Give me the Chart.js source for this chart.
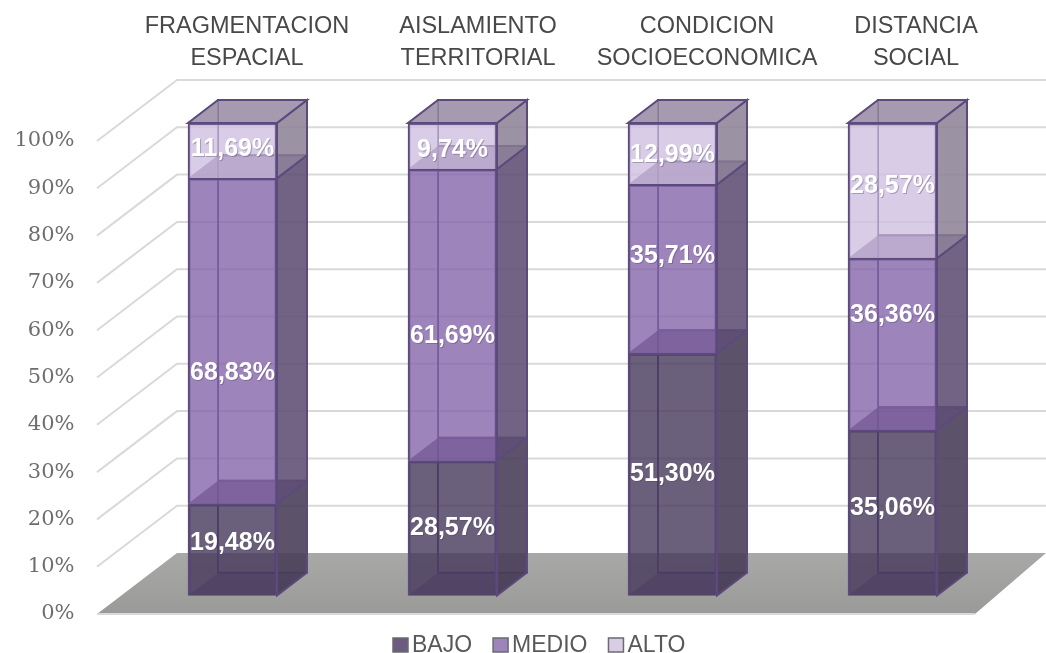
<!DOCTYPE html>
<html>
<head>
<meta charset="utf-8">
<style>
  html, body { margin: 0; background: #fff; }
  canvas { display: block; }
</style>
<script src="https://cdn.jsdelivr.net/npm/chart.js@4/dist/chart.umd.min.js"></script>
</head>
<body>
<canvas id="chart" width="1046" height="653"></canvas>
<script>
const categories = [
  ['FRAGMENTACION', 'ESPACIAL'],
  ['AISLAMIENTO', 'TERRITORIAL'],
  ['CONDICION', 'SOCIOECONOMICA'],
  ['DISTANCIA', 'SOCIAL'],
];
const bajo = [19.48, 28.57, 51.30, 35.06];
const medio = [68.83, 61.69, 35.71, 36.36];
const alto = [11.69, 9.74, 12.99, 28.57];

// the bars stand a little behind the plane the tick labels sit on
const BAR_LIFT = 18;
const DEPTH_X = 30;
const DEPTH_Y = 23;
const WALL_X = 80;
const WALL_Y = 61;
const LINE = 'rgb(92,74,125)';

// face colours per series
const faces = [
  {front: 'rgba(72,58,92,0.65)', back: 'rgba(72,58,92,0.45)', side: 'rgba(72,62,88,0.8)', top: 'rgba(85,60,115,0.7)', bottom: 'rgba(60,40,90,0.6)', swatch: '#6b5b80'},
  {front: 'rgba(133,103,170,0.65)', back: 'rgba(133,103,170,0.45)', side: 'rgba(92,78,112,0.8)', top: 'rgba(125,105,150,0.7)', bottom: 'rgba(90,70,120,0.5)', swatch: '#9d85bb'},
  {front: 'rgba(208,192,224,0.65)', back: 'rgba(208,192,224,0.45)', side: 'rgba(135,126,145,0.8)', top: 'rgba(148,136,160,0.8)', bottom: 'rgba(150,130,170,0.4)', swatch: '#d9cde6'},
];
// the labels were placed by hand in the original
const labelShiftY = [[-7, 0, 0, -5], [32, 21, -13, -29], [-2, 4, 1, -5]];
const titleCenters = [247, 478, 707, 916];

function poly(ctx, pts, fill, stroke) {
  ctx.beginPath();
  pts.forEach(([x, y], i) => i ? ctx.lineTo(x, y) : ctx.moveTo(x, y));
  ctx.closePath();
  if (fill) {
    ctx.fillStyle = fill;
    ctx.fill();
  }
  if (stroke) {
    ctx.strokeStyle = stroke;
    ctx.lineWidth = 2;
    ctx.stroke();
  }
}

const scene = {
  id: 'scene',
  beforeDatasetsDraw(chart) {
    const {ctx, scales: {y}} = chart;
    const base = y.getPixelForValue(0);
    const x0 = 97;

    // floor
    const grad = ctx.createLinearGradient(0, base - WALL_Y, 0, base);
    grad.addColorStop(0, '#a8a8a6');
    grad.addColorStop(1, '#9a9a98');
    poly(ctx, [[x0, base], [975, base], [1046, base - WALL_Y], [x0 + WALL_X, base - WALL_Y]], grad);
    ctx.strokeStyle = '#d9d9d9';
    ctx.lineWidth = 2;
    ctx.beginPath();
    ctx.moveTo(x0, base);
    ctx.lineTo(975, base);
    ctx.stroke();

    // side and back wall lines
    y.ticks.forEach(t => {
      if (t.value === 0) return;
      const py = y.getPixelForValue(t.value);
      ctx.beginPath();
      ctx.moveTo(x0, py);
      ctx.lineTo(x0 + WALL_X, py - WALL_Y);
      ctx.lineTo(1046, py - WALL_Y);
      ctx.stroke();
    });

    ctx.save();
    ctx.translate(0, -BAR_LIFT);
    chart.data.datasets.forEach((ds, i) => {
      const f = faces[i];
      chart.getDatasetMeta(i).data.forEach(bar => {
        const l = bar.x - bar.width / 2, r = bar.x + bar.width / 2;
        const t = bar.y, b = bar.base;
        const dx = DEPTH_X, dy = DEPTH_Y;
        poly(ctx, [[l + dx, t - dy], [r + dx, t - dy], [r + dx, b - dy], [l + dx, b - dy]], f.back, LINE);
        poly(ctx, [[l, t], [l + dx, t - dy], [l + dx, b - dy], [l, b]], f.back);
        if (i === 0) poly(ctx, [[l, b], [r, b], [r + dx, b - dy], [l + dx, b - dy]], f.bottom);
        poly(ctx, [[r, t], [r + dx, t - dy], [r + dx, b - dy], [r, b]], f.side, LINE);
        poly(ctx, [[l, t], [r, t], [r + dx, t - dy], [l + dx, t - dy]], f.top, i === 2 ? LINE : null);
      });
    });
  },
  afterDatasetsDraw(chart) {
    const {ctx} = chart;
    ctx.font = 'bold 25px "Liberation Sans"';
    ctx.textAlign = 'center';
    ctx.textBaseline = 'middle';
    chart.data.datasets.forEach((ds, i) => {
      chart.getDatasetMeta(i).data.forEach((bar, n) => {
        const mid = (bar.y + bar.base) / 2 + labelShiftY[i][n];
        ctx.fillStyle = 'rgba(70,60,90,0.35)';
        ctx.fillText(ds.data[n].toFixed(2).replace('.', ',') + '%', bar.x + 1, mid + 1);
        ctx.fillStyle = '#fff';
        ctx.fillText(ds.data[n].toFixed(2).replace('.', ',') + '%', bar.x, mid);
      });
    });
    ctx.restore();
  },
  afterDraw(chart) {
    const {ctx} = chart;
    // category titles
    ctx.save();
    ctx.font = '23.5px "Liberation Sans"';
    ctx.fillStyle = '#484848';
    ctx.textAlign = 'center';
    ctx.textBaseline = 'alphabetic';
    chart.data.labels.forEach((lines, i) => {
      lines.forEach((line, k) => ctx.fillText(line, titleCenters[i], 33 + k * 32));
    });

    // legend
    ctx.font = '23px "Liberation Sans"';
    ctx.textAlign = 'left';
    let x = 393;
    chart.data.datasets.forEach((ds, i) => {
      ctx.fillStyle = faces[i].swatch;
      ctx.strokeStyle = '#6a6a70';
      ctx.lineWidth = 1.5;
      ctx.fillRect(x, 638, 15, 14);
      ctx.strokeRect(x, 638, 15, 14);
      ctx.fillStyle = '#595959';
      ctx.fillText(ds.label, x + 19, 652);
      x += 19 + ctx.measureText(ds.label).width + 21;
    });
    ctx.restore();
  },
};

const series = [bajo, medio, alto];
const names = ['BAJO', 'MEDIO', 'ALTO'];

new Chart(document.getElementById('chart'), {
  type: 'bar',
  data: {
    labels: categories,
    datasets: series.map((data, i) => ({
      label: names[i],
      data,
      backgroundColor: faces[i].front,
      borderColor: LINE,
      borderWidth: 2,
      barThickness: 89,
      clip: false,
    })),
  },
  options: {
    responsive: false,
    animation: false,
    events: [],
    layout: {padding: {top: 141, bottom: 39, left: 0, right: 43.5}},
    plugins: {legend: {display: false}, tooltip: {enabled: false}},
    scales: {
      x: {
        stacked: true,
        ticks: {display: false},
        grid: {display: false, drawTicks: false},
        border: {display: false},
        afterFit(scale) { scale.height = 0; },
      },
      y: {
        stacked: true,
        min: 0,
        max: 100,
        afterFit(scale) { scale.width = 122.5; },
        // tick padding also eats vertical room, so push the labels out with a clear tick mark
        grid: {drawOnChartArea: false, tickLength: 48, tickColor: 'transparent'},
        border: {display: false},
        ticks: {
          stepSize: 10,
          padding: 0,
          color: '#6e6e6e',
          font: {family: '"DejaVu Serif"', size: 21},
          callback: v => v + '%',
        },
      },
    },
  },
  plugins: [scene],
});
</script>
</body>
</html>
